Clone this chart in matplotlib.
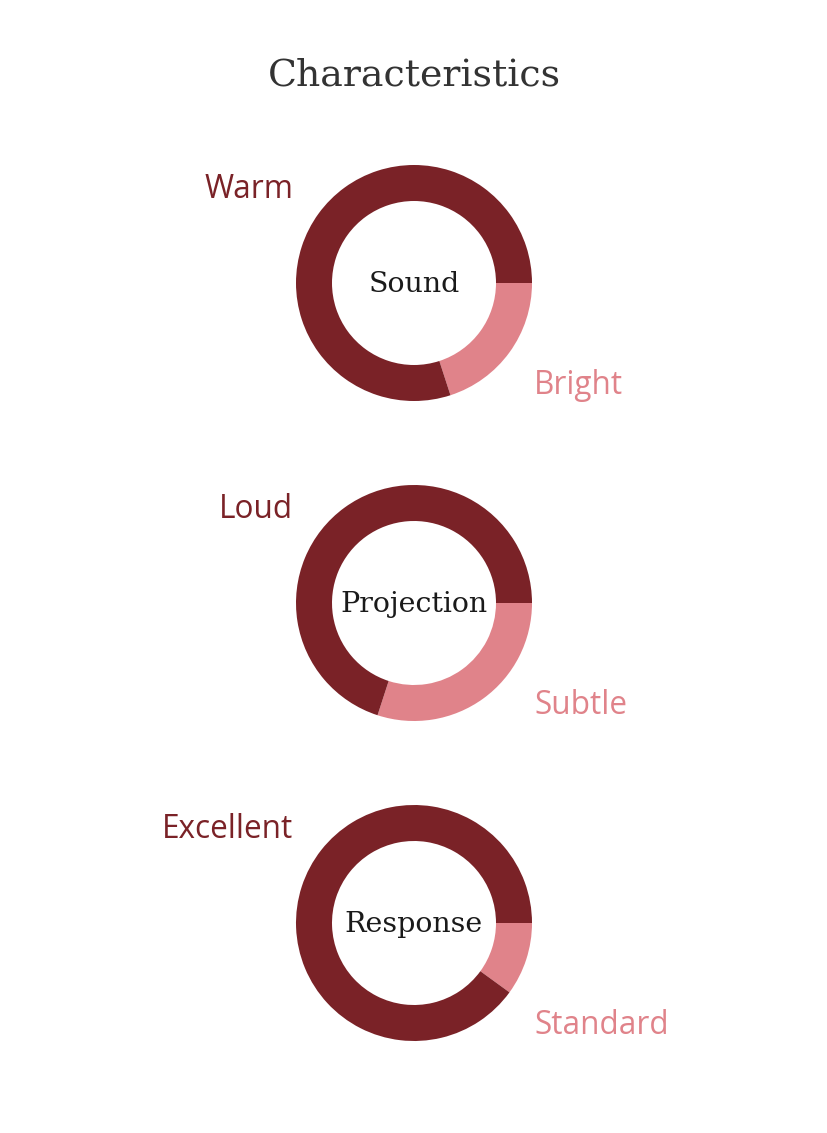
import matplotlib
matplotlib.use("Agg")
import matplotlib.pyplot as plt

title = "Characteristics"
center_labels = ["Sound", "Projection", "Response"]
major_labels = ["Warm", "Loud", "Excellent"]
minor_labels = ["Bright", "Subtle", "Standard"]
major_values = [80, 70, 90]
minor_values = [20, 30, 10]

dark = "#7A2227"
light = "#E0838A"

W, H = 828, 1133
fig = plt.figure(figsize=(W / 100, H / 100), dpi=100)
ax = fig.add_axes([0, 0, 1, 1])

cx = 414
cys = [283, 603, 923]
R = 118
width = 36

for i, cy in enumerate(cys):
    # y axis is inverted, so counterclock=True renders clockwise on screen
    ax.pie([minor_values[i], major_values[i]], colors=[light, dark],
           startangle=0, counterclock=True, center=(cx, cy),
           radius=R, wedgeprops=dict(width=width, linewidth=0), frame=True)
    ax.text(cx, cy + 1, center_labels[i], ha="center", va="center",
            fontsize=20.5, family="DejaVu Serif", color="#1a1a1a")
    ax.text(293, cy - 94, major_labels[i], ha="right", va="center",
            fontsize=22.7, family="Open Sans", color=dark)
    ax.text(534, cy + 102, minor_labels[i], ha="left", va="center",
            fontsize=22.7, family="Open Sans", color=light)

ax.set_xlim(0, W)
ax.set_ylim(H, 0)
ax.set_aspect("equal")
ax.axis("off")
ax.text(W / 2, 76, title, ha="center", va="center", fontsize=27.3,
        family="DejaVu Serif", color="#333333")

fig.savefig("out.png", dpi=100)
